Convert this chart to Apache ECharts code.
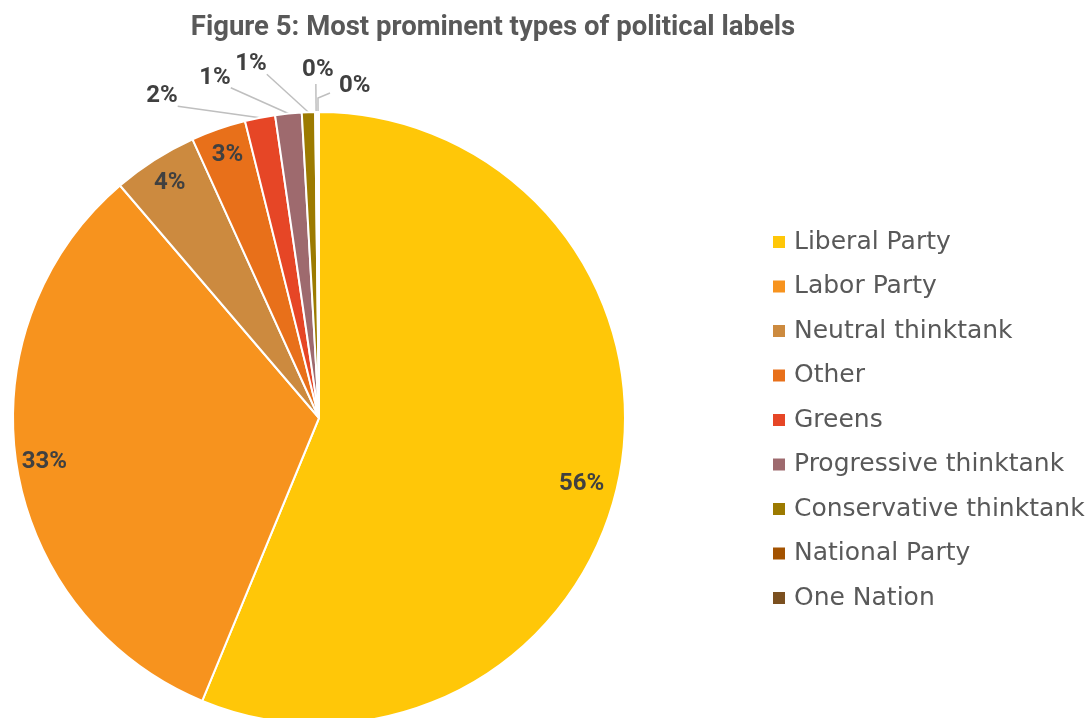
<!DOCTYPE html>
<html>
<head>
<meta charset="utf-8">
<script src="https://cdn.jsdelivr.net/npm/echarts@6/dist/echarts.min.js"></script>
<style>
  html, body { margin: 0; padding: 0; background: #fff; }
  #chart { width: 1091px; height: 718px; }
</style>
</head>
<body>
<div id="chart"></div>
<script>
// data (share of labels, %)
var categories = ['Liberal Party', 'Labor Party', 'Neutral thinktank', 'Other', 'Greens',
  'Progressive thinktank', 'Conservative thinktank', 'National Party', 'One Nation']
var values = [56.4, 32.6, 4.5, 2.9, 1.6, 1.4, 0.7, 0.1, 0.1]
var colors = ['#FFC708', '#F7931E', '#CC8A3F', '#E8701A', '#E64626',
  '#9E6A6E', '#9C7A00', '#A35200', '#7B5020']
// which slices carry their label inside the pie
var insideLabel = [true, true, true, true, false, false, false, false, false]
// leader line lengths for the thin slices (radial part, horizontal part)
var lineLen = [0, 0, 0, 0, 22, 36, 48, 28, 14]
var lineLen2 = [0, 0, 0, 0, 73, 49, 35, 0, 10]

var chart = echarts.init(document.getElementById('chart'))

var pctFormatter = function (p) {
  return Math.round(p.percent) + '%'
}

var labelFont = {
  fontFamily: 'Roboto',
  fontWeight: 'bold',
  fontSize: 24,
  color: '#404040'
}

var option = {
  animation: false,
  color: colors,
  title: {
    text: 'Figure 5: Most prominent types of political labels',
    left: 488,
    top: 9,
    textAlign: 'center',
    textStyle: {
      fontFamily: 'Roboto',
      fontWeight: 'bold',
      fontSize: 27.5,
      color: '#595959'
    }
  },
  legend: {
    orient: 'vertical',
    left: 771,
    top: 227,
    padding: 0,
    icon: 'rect',
    itemWidth: 14,
    itemHeight: 14,
    itemGap: 14.5,
    selectedMode: false,
    textStyle: {
      fontFamily: 'DejaVu Sans',
      fontSize: 25,
      lineHeight: 30,
      color: '#595959',
      padding: [0, 0, 0, 3]
    },
    data: categories
  },
  series: [
    {
      // slices + outside labels for the thin ones
      type: 'pie',
      center: [319, 418],
      radius: [0, 306],
      startAngle: 90,
      clockwise: true,
      avoidLabelOverlap: false,
      itemStyle: { borderColor: '#fff', borderWidth: 2 },
      label: Object.assign({ formatter: pctFormatter }, labelFont),
      labelLine: {
        lineStyle: { color: '#BFBFBF', width: 1.5 }
      },
      labelLayout: function (p) {
        var pts = p.labelLinePoints
        var r = p.labelRect
        if (!pts) return
        if (p.dataIndex === 7) {
          // label sits right above a vertical leader
          return { align: 'center', verticalAlign: 'bottom', dx: 7, dy: -2,
            labelLinePoints: [pts[0], pts[1], pts[1]] }
        }
        if (p.dataIndex === 8) {
          // leader bends to the right, label to its right
          var bend = [pts[1][0] + 12, pts[1][1] - 5]
          return { align: 'left', dx: 36, dy: -12,
            labelLinePoints: [pts[0], pts[1], bend] }
        }
        if (p.dataIndex >= 4) {
          // straight leader from the slice rim to the label's lower right corner
          var end = [r.x + r.width, r.y + r.height - 2]
          return { labelLinePoints: [pts[0], end, end] }
        }
      },
      emphasis: { disabled: true },
      data: categories.map(function (c, i) {
        return {
          name: c,
          value: values[i],
          label: { show: !insideLabel[i] },
          labelLine: { show: !insideLabel[i], length: lineLen[i], length2: lineLen2[i] }
        }
      })
    },
    {
      // transparent ring used only to place the inside labels near the rim
      type: 'pie',
      center: [319, 418],
      radius: [244, 306],
      startAngle: 90,
      clockwise: true,
      silent: true,
      legendHoverLink: false,
      itemStyle: { color: 'rgba(0,0,0,0)', borderWidth: 0 },
      label: Object.assign({ position: 'inside', formatter: pctFormatter }, labelFont),
      labelLine: { show: false },
      labelLayout: function (p) {
        // Excel's best-fit nudges the big slice label a little lower
        if (p.dataIndex === 0) return { dx: -10, dy: 12 }
      },
      emphasis: { disabled: true },
      data: categories.map(function (c, i) {
        return {
          name: c + ' ',
          value: values[i],
          label: { show: insideLabel[i] }
        }
      })
    }
  ]
}

chart.setOption(option)
</script>
</body>
</html>
